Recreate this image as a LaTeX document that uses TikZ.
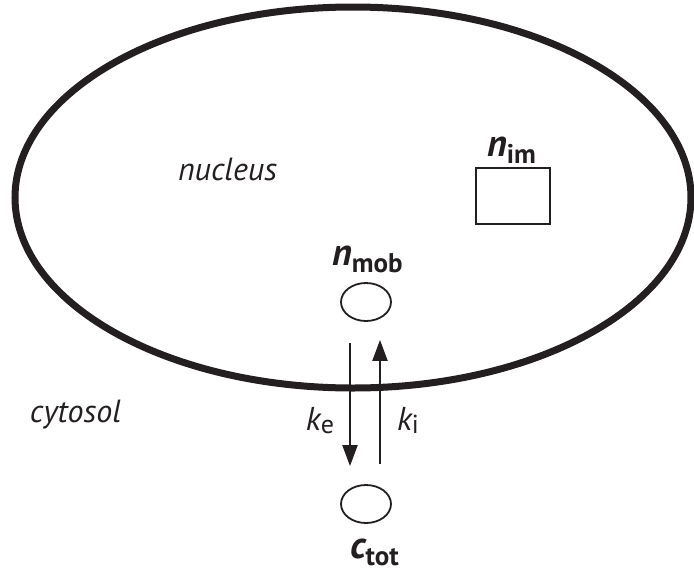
\documentclass[tikz,border=0pt]{standalone}
\usepackage{fontspec}
\setmainfont{PT Sans}
\usetikzlibrary{shapes.geometric,arrows.meta}
\definecolor{ink}{HTML}{231F20}
\tikzset{
  lbl/.style={inner sep=0pt, outer sep=0pt, text=ink},
  small/.style={draw=ink, line width=1.8pt, ellipse, minimum width=50pt, minimum height=38pt, inner sep=0pt},
  arr/.style={draw=ink, line width=2pt, -{Triangle[length=21pt,width=15pt]}},
}
\newcommand{\itxt}[1]{{\fontsize{32}{36}\selectfont\itshape #1}}
\newcommand{\bsym}[2]{{\fontsize{38}{38}\selectfont\bfseries\itshape #1}{\fontsize{27}{27}\selectfont\bfseries\raisebox{-7pt}{#2}}}
\newcommand{\ksym}[2]{{\fontsize{33}{33}\selectfont\itshape #1}{\fontsize{26}{26}\selectfont\raisebox{-3pt}{#2}}}
\begin{document}
\begin{tikzpicture}[x=1pt,y=-1pt]
\useasboundingbox[fill=white] (0,0) rectangle (694,571);
% nucleus envelope
\node[ellipse, draw=ink, line width=7pt, minimum width=676pt, minimum height=381pt, inner sep=0pt] (nuc) at (353,197.5) {};
% texts
\node[lbl, anchor=base west] (tnuc) at (178,180) {\itxt{nucleus}};
\node[lbl, anchor=base west] (tcyt) at (30,422) {\itxt{cytosol}};
% immobile pool
\node[draw=ink, line width=1.8pt, minimum width=74pt, minimum height=56pt, inner sep=0pt] (nim) at (513,196) {};
\node[lbl, anchor=base west] (tnim) at (487,156) {\bsym{n}{im}};
% mobile pools
\node[small] (nmob) at (366,302) {};
\node[lbl, anchor=base west] (tnmob) at (332,265) {\bsym{n}{mob}};
\node[small] (ctot) at (366,504) {};
\node[lbl, anchor=base west] (tctot) at (350,558) {\bsym{c}{tot}};
% fluxes
\draw[arr] ([xshift=-16pt,yshift=-21pt]nmob.south) -- ([xshift=-16pt,yshift=18pt]ctot.north);
\draw[arr] ([xshift=14pt,yshift=20pt]ctot.north) -- ([xshift=14pt,yshift=-18pt]nmob.south);
\node[lbl, anchor=base east] (ke) at (334,430) {\ksym{k}{e}};
\node[lbl, anchor=base west] (ki) at (397,430) {\ksym{k}{i}};
\end{tikzpicture}
\end{document}
